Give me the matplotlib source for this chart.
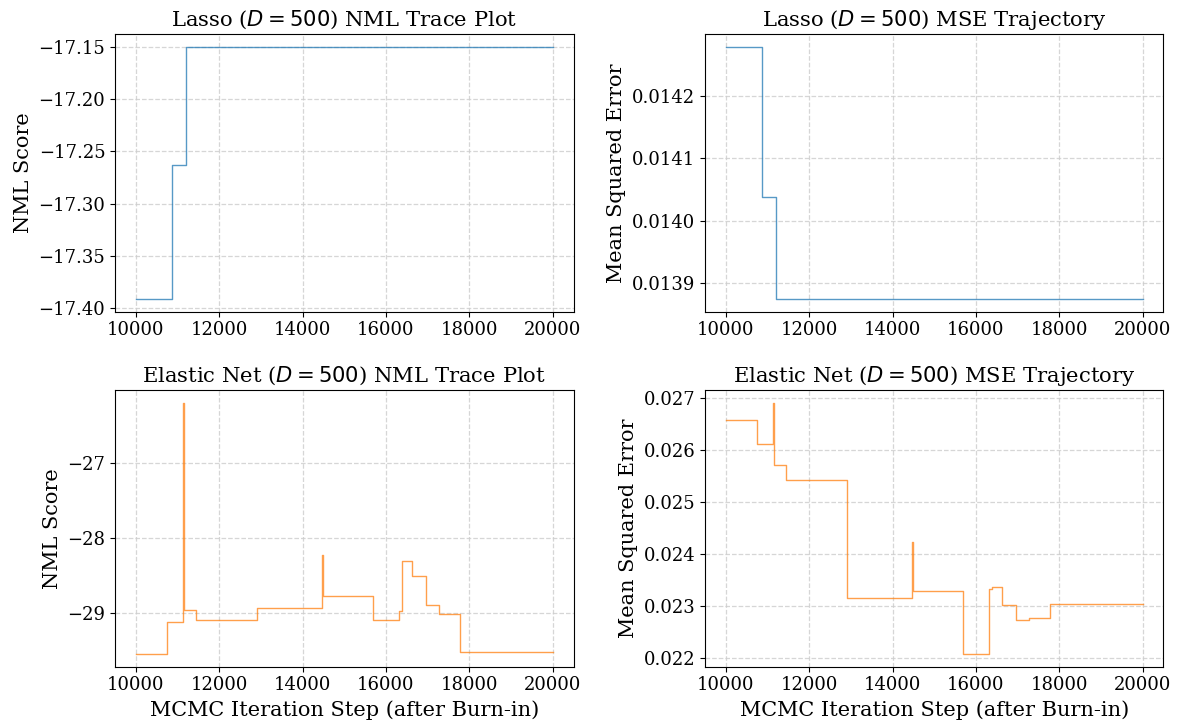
import matplotlib
matplotlib.use("Agg")
import matplotlib.pyplot as plt

# Lasso (D=500)
lasso_steps = [10000, 10857, 11200, 20000]
lasso_nml = [-17.3917, -17.2630, -17.1497, -17.1497]
lasso_mse = [0.014279, 0.014038, 0.013874, 0.013874]

# Elastic Net (D=500)
enet_steps = [10000, 10744, 11136, 11160, 11440, 12904, 14456, 14480,
              15680, 16320, 16384, 16632, 16952, 17280, 17784, 20000]
enet_nml = [-29.556, -29.124, -26.191, -28.969, -29.098, -28.933, -28.231, -28.782,
            -29.093, -28.978, -28.307, -28.516, -28.902, -29.013, -29.529, -29.529]
enet_mse = [0.026575, 0.026121, 0.026914, 0.025725, 0.025425, 0.023163, 0.024236, 0.023297,
            0.022083, 0.023342, 0.023374, 0.023035, 0.022748, 0.022780, 0.023054, 0.023054]

titles = [r"Lasso ($D = 500$) NML Trace Plot", r"Lasso ($D = 500$) MSE Trajectory",
          r"Elastic Net ($D = 500$) NML Trace Plot", r"Elastic Net ($D = 500$) MSE Trajectory"]
ylabels = ["NML Score", "Mean Squared Error", "NML Score", "Mean Squared Error"]
xlabel = "MCMC Iteration Step (after Burn-in)"
xticks = [10000, 12000, 14000, 16000, 18000, 20000]
yticks_list = [
    [-17.40, -17.35, -17.30, -17.25, -17.20, -17.15],
    [0.0139, 0.0140, 0.0141, 0.0142],
    [-29, -28, -27],
    [0.022, 0.023, 0.024, 0.025, 0.026, 0.027],
]
yfmt = ["{:.2f}", "{:.4f}", "{:.0f}", "{:.3f}"]

plt.rcParams['font.family'] = 'DejaVu Serif'
plt.rcParams['mathtext.fontset'] = 'dejavusans'

fig = plt.figure(figsize=(11.77, 7.24), dpi=100)
positions = [
    [0.0977, 0.5695, 0.3896, 0.3831],
    [0.5990, 0.5695, 0.3894, 0.3831],
    [0.0977, 0.0791, 0.3896, 0.3822],
    [0.5990, 0.0791, 0.3894, 0.3822],
]
series = [(lasso_steps, lasso_nml, '#1f77b4'), (lasso_steps, lasso_mse, '#1f77b4'),
          (enet_steps, enet_nml, '#ff7f0e'), (enet_steps, enet_mse, '#ff7f0e')]

for i, (pos, (xs, ys, c)) in enumerate(zip(positions, series)):
    ax = fig.add_axes(pos)
    ax.step(xs, ys, where='post', color=c, lw=1.0, alpha=0.75)
    ax.set_title(titles[i], fontsize=15.2, pad=6)
    ax.set_ylabel(ylabels[i], fontsize=15)
    if i >= 2:
        ax.set_xlabel(xlabel, fontsize=15)
    ax.set_xticks(xticks)
    yt = yticks_list[i]
    ax.set_yticks(yt)
    labels = [yfmt[i].format(v) for v in yt]
    labels = [l.replace('-', '\u2212') for l in labels]
    ax.set_yticklabels(labels)
    ax.tick_params(labelsize=13)
    ax.grid(True, linestyle='--', color='#cccccc', alpha=0.8, lw=0.9)

fig.savefig("out.png", dpi=100)
